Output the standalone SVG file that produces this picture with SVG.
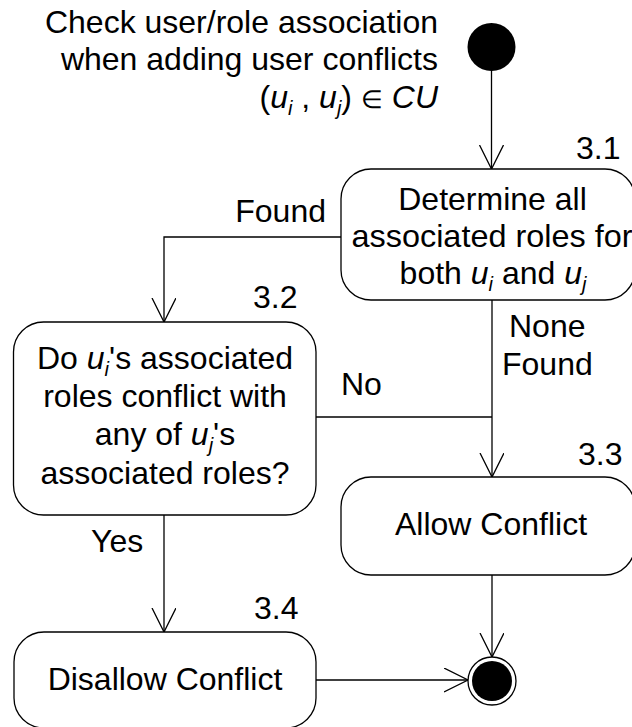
<svg xmlns="http://www.w3.org/2000/svg" width="632" height="727" viewBox="0 0 632 727">
<defs>
<marker id="arr" markerWidth="26" markerHeight="26" refX="24" refY="12" orient="auto" markerUnits="userSpaceOnUse">
<path d="M0,0 L24,12 L0,24" fill="none" stroke="#000" stroke-width="1.3"/>
</marker>
<style>
text{font-family:"Liberation Sans",Arial,sans-serif;font-size:32px;fill:#000}
.c{text-anchor:middle}
.r{text-anchor:end}
.box{fill:#fff;stroke:#000;stroke-width:1.3}
.ln{fill:none;stroke:#000;stroke-width:1.3}
.sub{font-size:20px;font-style:italic}
.it{font-style:italic}
.el{font-size:25px}
</style>
</defs>
<rect width="632" height="727" fill="#fff"/>
<g id="connectors">
<path class="ln" d="M491.5,70 L491.5,169" marker-end="url(#arr)"/>
<path class="ln" d="M341,237 L164,237 L164,322" marker-end="url(#arr)"/>
<path class="ln" d="M492,300 L492,477" marker-end="url(#arr)"/>
<path class="ln" d="M316,417 L492,417"/>
<path class="ln" d="M164,515 L164,632" marker-end="url(#arr)"/>
<path class="ln" d="M492,575 L492,657" marker-end="url(#arr)"/>
<path class="ln" d="M316,680 L468,680" marker-end="url(#arr)"/>
</g>
<g id="start">
<circle cx="491.5" cy="47" r="24" fill="#000"/>
<text class="r" x="438" y="33">Check user/role association</text>
<text class="r" x="438" y="70">when adding user conflicts</text>
<text class="r" x="438" y="108">(<tspan class="it">u</tspan><tspan class="sub" dy="7">i</tspan><tspan dy="-7"> , </tspan><tspan class="it">u</tspan><tspan class="sub" dy="7">j</tspan><tspan dy="-7">) </tspan><tspan class="el">∈</tspan><tspan> </tspan><tspan class="it">CU</tspan></text>
</g>
<g id="n31">
<rect class="box" x="341" y="169" width="294" height="131" rx="30"/>
<text class="c" x="492.5" y="210">Determine all</text>
<text class="c" x="492" y="247" textLength="281" lengthAdjust="spacingAndGlyphs">associated roles for</text>
<text class="c" x="493" y="284">both <tspan class="it">u</tspan><tspan class="sub" dy="7">i</tspan><tspan dy="-7"> and </tspan><tspan class="it">u</tspan><tspan class="sub" dy="7">j</tspan></text>
<text x="576" y="159">3.1</text>
</g>
<g id="n32">
<rect class="box" x="13.5" y="322" width="302.5" height="193" rx="30"/>
<text class="c" x="165" y="369">Do <tspan class="it">u</tspan><tspan class="sub" dy="7">i</tspan><tspan dy="-7">'s associated</tspan></text>
<text class="c" x="165" y="407">roles conflict with</text>
<text class="c" x="165" y="445">any of <tspan class="it">u</tspan><tspan class="sub" dy="7">j</tspan><tspan dy="-7">'s</tspan></text>
<text class="c" x="165" y="484">associated roles?</text>
<text x="253" y="308">3.2</text>
</g>
<g id="n33">
<rect class="box" x="341" y="477" width="294" height="98" rx="30"/>
<text class="c" x="491" y="535">Allow Conflict</text>
<text x="578" y="465">3.3</text>
</g>
<g id="n34">
<rect class="box" x="14" y="632" width="302" height="96" rx="30"/>
<text class="c" x="165" y="690">Disallow Conflict</text>
<text x="254" y="619">3.4</text>
</g>
<g id="end">
<circle cx="492" cy="681" r="24" fill="#fff" stroke="#000" stroke-width="1.3"/>
<circle cx="492" cy="681" r="20" fill="#000"/>
</g>
<g id="labels">
<text class="r" x="326" y="222">Found</text>
<text x="509" y="337">None</text>
<text x="502" y="375">Found</text>
<text x="341" y="395">No</text>
<text x="91" y="552">Yes</text>
</g>
</svg>
